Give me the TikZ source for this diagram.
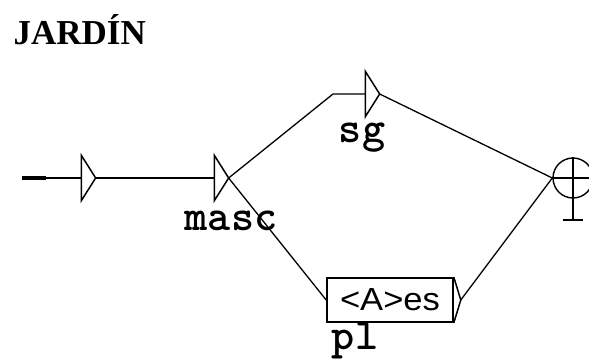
\documentclass[tikz,border=0pt]{standalone}
\usepackage{fontspec}
\setmainfont{Liberation Serif}
\newfontfamily\boxfont{Liberation Sans}
\newfontfamily\lblfont{lmmonolt10-bold}[Extension=.otf]
\begin{document}
\begin{tikzpicture}[x=1pt,y=-1pt,line width=1.3pt,
  epsbox/.style={inner sep=0pt,minimum width=13pt,minimum height=44pt,
    append after command={\pgfextra{\draw[line width=1.5pt] (\tikzlastnode.north west) -- (\tikzlastnode.south west) -- (\tikzlastnode.east) -- cycle;}}},
  lbl/.style={font=\lblfont\fontsize{44}{44}\selectfont,inner sep=0pt,anchor=base},
  conn/.style={line width=1.3pt}]
\useasboundingbox (0,0) rectangle (589,361);
\node[anchor=base west,inner sep=0pt,font=\bfseries\fontsize{35}{35}\selectfont] (title) at (13,45) {JARDÍN};
% initial state
\coordinate (start) at (22,178);
\coordinate (startend) at (46,178);
\node[epsbox] (b0) at (88.5,178) {};
\node[epsbox] (masc) at (221.5,178) {};
\node[epsbox] (sg) at (372.5,94) {};
\coordinate (bend) at (333,94);
\node[draw,line width=1.6pt,inner sep=0pt,minimum width=126pt,minimum height=44pt,
  font=\boxfont\fontsize{32}{32}\selectfont] (pl) at (390,300) {\scalebox{1.08}[1]{<A>es}};
\coordinate (pltip) at ([xshift=7pt]pl.east);
\draw[line width=1.5pt] (pl.north east) -- (pltip) -- (pl.south east);
% final state
\node[draw,circle,minimum size=40pt,inner sep=0pt,line width=1.4pt] (fin) at (573,178) {};
\draw[line width=1.6pt] (fin.north) -- (573,220);
\draw[line width=1.8pt] (563,220) -- (583,220);
\draw[line width=1.4pt] (fin.west) -- (fin.east);
% connectors
\draw[line width=3.4pt] (start) -- (startend);
\draw[conn] (startend) -- (b0.west);
\draw[conn] (b0.east) -- (masc.west);
\draw[conn] (masc.east) -- (bend) -- (sg.west);
\draw[conn] (sg.east) -- (fin.west);
\draw[conn] (masc.east) -- (pl.west);
\draw[conn] (pltip) -- (fin.west);
% labels
\node[lbl] (lmasc) at (231,230) {masc};
\node[lbl] (lsg) at (362,142) {sg};
\node[lbl] (lpl) at (355,349) {pl};
\end{tikzpicture}
\end{document}
